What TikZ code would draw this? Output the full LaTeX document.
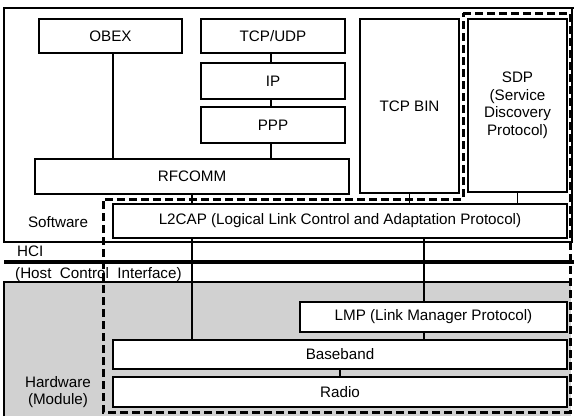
\documentclass[tikz,border=0pt]{standalone}
\usepackage{fontspec}
\setmainfont{Liberation Sans}
\begin{document}
\begin{tikzpicture}[x=1pt,y=-1pt,
  every node/.style={font=\fontsize{15.2}{17.5}\selectfont},
  layer/.style={draw, line width=1.3pt, fill=white, inner sep=0pt, align=center},
  link/.style={line width=1.4pt},
  frame/.style={line width=1.7pt},
  group/.style={line width=3pt, dash pattern=on 8pt off 4pt},
  label/.style={inner sep=0pt, align=center}]
\useasboundingbox (0,0) rectangle (574,416);
\fill[white] (0,0) rectangle (574,416);

% software and hardware regions
\draw[frame] (4,8) rectangle (572,242);
\draw[frame] (572,8) -- (574,8);
\fill[gray!36] (4,282) rectangle (571,416);
\draw[frame] (4,416) -- (4,282) -- (571,282);

% HCI boundary
\draw[line width=3.4pt] (4,262) -- (574,262);

% protocol layers
\node[layer, minimum width=143pt, minimum height=34pt] (obex) at (110.5,36) {OBEX};
\node[layer, minimum width=144pt, minimum height=34pt] (tcpudp) at (273,36) {TCP/UDP};
\node[layer, minimum width=144pt, minimum height=36pt] (ip) at (273,81) {IP};
\node[layer, minimum width=144pt, minimum height=36pt] (ppp) at (273,125) {PPP};
\node[layer, minimum width=314pt, minimum height=35pt] (rfcomm) at (192,176.5) {RFCOMM};
\node[layer, minimum width=99pt, minimum height=174pt] (tcpbin) at (409.5,106) {TCP BIN};
\node[layer, minimum width=99pt, minimum height=173pt] (sdp) at (517.5,105.5) {SDP\\(Service\\Discovery\\Protocol)};
\node[layer, minimum width=454pt, minimum height=34pt] (l2cap) at (340,221) {L2CAP (Logical Link Control and Adaptation Protocol)};
\node[layer, minimum width=267pt, minimum height=30pt] (lmp) at (433.5,317) {LMP (Link Manager Protocol)};
\node[layer, minimum width=454pt, minimum height=29pt] (baseband) at (340,354.5) {Baseband};
\node[layer, minimum width=454pt, minimum height=30pt] (radio) at (340,392) {Radio};

% connections between layers
\draw[link] ([xshift=2.5pt]obex.south) -- ([xshift=2.5pt]obex.south |- rfcomm.north);
\draw[link] ([xshift=-2pt]tcpudp.south) -- ([xshift=-2pt]ip.north);
\draw[link] ([xshift=-2pt]ip.south) -- ([xshift=-2pt]ppp.south |- ppp.north);
\draw[link] ([xshift=-2pt]ppp.south) -- ([xshift=-2pt]ppp.south |- rfcomm.north);
\draw[link] (rfcomm.south) -- (rfcomm.south |- l2cap.north);
\draw[link] (tcpbin.south) -- (tcpbin.south |- l2cap.north);
\draw[link] (sdp.south) -- (sdp.south |- l2cap.north);
\draw[link] (rfcomm.south |- l2cap.south) -- (rfcomm.south |- baseband.north);
\draw[link] ([xshift=-9.5pt]lmp.north |- l2cap.south) -- ([xshift=-9.5pt]lmp.north);
\draw[link] ([xshift=-9.5pt]lmp.south) -- ([xshift=-9.5pt]lmp.south |- baseband.north);
\draw[link] (baseband.south) -- (radio.north);

% dashed grouping of the core stack
\draw[group] (463,13) -- (570,13) -- (570,412) -- (103,412) -- (103,199) -- (463,199) -- cycle;

% region labels
\node[label] (sw) at (58,222) {Software};
\node[label, anchor=west] (hci) at (17,251) {HCI};
\node[label, anchor=west] (hcil) at (15,275) {(Host\ \ Control\ \ Interface)};
\node[label] (hw) at (58,392) {Hardware\\(Module)};
\end{tikzpicture}
\end{document}
